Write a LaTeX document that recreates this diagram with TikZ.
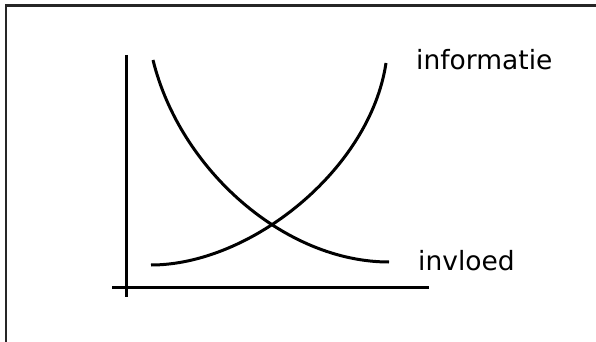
\documentclass[tikz,border=0pt]{standalone}
\usepackage{fontspec}
\setmainfont{DejaVu Sans}
\usepackage{xcolor}
\usepackage{tikz}
\usetikzlibrary{positioning}

\tikzset{
  curvelabel/.style={anchor=base west, inner sep=0pt, font=\fontsize{26.5}{30}\selectfont},
  axisline/.style={line width=3pt},
  curveline/.style={line width=3pt}
}

\begin{document}
\begin{tikzpicture}[x=1pt,y=-1pt]
    \useasboundingbox (0,0) rectangle (596,342);
    \draw[line width=2.4pt, draw=black!85] (6,5.5) rectangle (602,348);
    % axes
    \coordinate (ytop) at (126,55);
    \coordinate (ybot) at (126,297);
    \coordinate (xleft) at (112,287);
    \coordinate (xright) at (429,287);
    \draw[axisline] (ytop) -- (ybot);
    \draw[axisline] (xleft) -- (xright);
    % curves
    \coordinate (infstart) at (151,265);
    \coordinate (infend) at (386,63);
    \coordinate (invstart) at (153,60);
    \coordinate (invend) at (389,262);
    \draw[curveline] (infstart) .. controls (250,265) and (370,170) .. (infend);
    \draw[curveline] (invstart) .. controls (180,170) and (285,262) .. (invend);
    \node[curvelabel] (informatie) at (416,70) {informatie};
    \node[curvelabel] (invloed) at (418,270) {invloed};
  \end{tikzpicture}
\end{document}
